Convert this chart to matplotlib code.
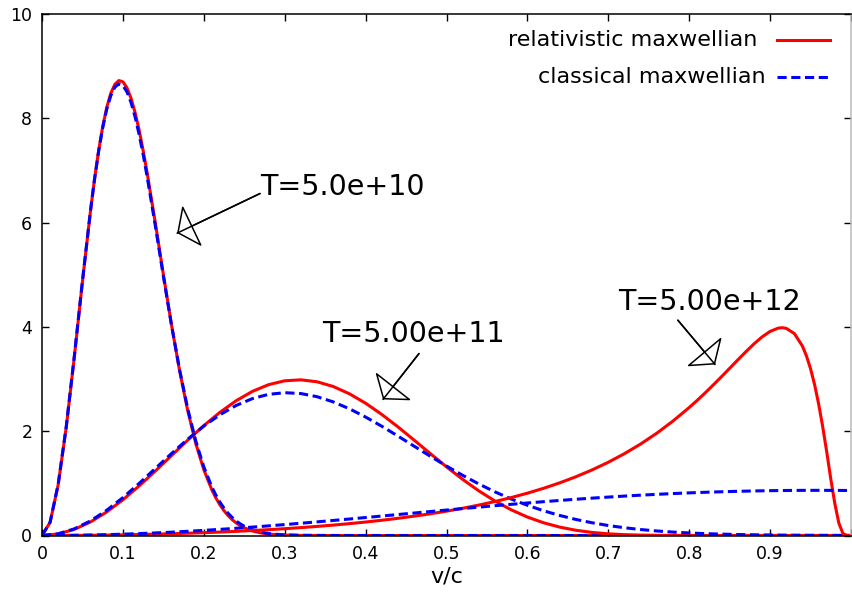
import numpy as np
import matplotlib
matplotlib.use("Agg")
import matplotlib.pyplot as plt

plt.rcParams['font.family'] = ['DejaVu Sans']

# T = 5.0e10 (relativistic and classical share the same grid)
v_t10 = [0.00, 0.01, 0.02, 0.03, 0.04, 0.05, 0.06, 0.065, 0.07, 0.075, 0.08, 0.085,
         0.09, 0.095, 0.10, 0.105, 0.11, 0.115, 0.12, 0.125, 0.13, 0.14, 0.15,
         0.16, 0.17, 0.18, 0.19, 0.20, 0.21, 0.215, 0.22, 0.225, 0.23, 0.235,
         0.24, 0.245, 0.25, 0.26, 0.27, 0.28, 0.29, 0.30, 0.32, 0.35, 0.40, 1.00]
rel_t10 = [0.0, 0.2516, 0.9747, 2.0791, 3.4305, 4.870, 6.234, 6.843, 7.383, 7.841, 8.210, 8.480,
           8.654, 8.727, 8.704, 8.588, 8.390, 8.117, 7.780, 7.387, 6.953, 6.002, 5.010,
           4.048, 3.169, 2.405, 1.770, 1.263, 0.874, 0.7188, 0.587, 0.4754, 0.382, 0.3048,
           0.241, 0.1895, 0.148, 0.0876, 0.0503, 0.0280, 0.0151, 0.0079, 0.002, 0.0002, 0.0, 0.0]
cls_t10 = [0.0, 0.2537, 0.9821, 2.0925, 3.447, 4.884, 6.238, 6.839, 7.370, 7.818, 8.176, 8.436,
           8.599, 8.663, 8.632, 8.511, 8.309, 8.035, 7.698, 7.310, 6.881, 5.948, 4.979,
           4.042, 3.185, 2.440, 1.817, 1.317, 0.929, 0.7726, 0.638, 0.5242, 0.427, 0.3465,
           0.279, 0.2233, 0.178, 0.110, 0.067, 0.039, 0.023, 0.0128, 0.0038, 0.0005, 0.0, 0.0]

# T = 5.00e11
v_t11 = [round(0.02 * i, 2) for i in range(51)]
rel_t11 = [0.0, 0.0297, 0.1177, 0.2604, 0.4521, 0.6850, 0.9500, 1.2363, 1.5325, 1.8269,
           2.1076, 2.3637, 2.5854, 2.7639, 2.8928, 2.9678, 2.9863, 2.9488, 2.8580, 2.7186,
           2.5373, 2.3222, 2.0832, 1.8292, 1.5710, 1.3171, 1.0766, 0.8558, 0.6601, 0.4924,
           0.3539, 0.2441, 0.1607, 0.1003, 0.0589, 0.0322, 0.0162, 0.0074, 0.0030, 0.0011,
           0.0004, 0.0, 0.0, 0.0, 0.0, 0.0, 0.0, 0.0, 0.0, 0.0, 0.0]
cls_t11 = [0.0, 0.0323, 0.1275, 0.2807, 0.4841, 0.7273, 0.9983, 1.2840, 1.5710, 1.8464,
           2.0983, 2.3171, 2.4947, 2.6258, 2.7074, 2.7393, 2.7230, 2.6625, 2.5629, 2.4306,
           2.2724, 2.0956, 1.9073, 1.7135, 1.5205, 1.3327, 1.1544, 0.9882, 0.8365, 0.7000,
           0.5794, 0.4743, 0.3842, 0.3077, 0.2440, 0.1915, 0.1487, 0.1143, 0.0869, 0.0655,
           0.0488, 0.0360, 0.0264, 0.0191, 0.0137, 0.0097, 0.0068, 0.0048, 0.0033, 0.0022,
           0.0015]

# T = 5.00e12
v_rel_t12 = [0.00, 0.02, 0.04, 0.06, 0.08, 0.10, 0.12, 0.14, 0.16, 0.18, 0.20,
             0.22, 0.24, 0.26, 0.28, 0.30, 0.32, 0.34, 0.36, 0.38, 0.40,
             0.42, 0.44, 0.46, 0.48, 0.50, 0.52, 0.54, 0.56, 0.58, 0.60,
             0.62, 0.64, 0.66, 0.68, 0.70, 0.72, 0.74, 0.76, 0.78, 0.80,
             0.81, 0.82, 0.83, 0.84, 0.85, 0.86, 0.87, 0.88, 0.89, 0.90,
             0.91, 0.915, 0.92, 0.93, 0.94, 0.945, 0.95, 0.955, 0.96, 0.965,
             0.97, 0.975, 0.98, 0.985, 0.99, 0.995, 1.00]
rel_t12 = [0.0, 0.0005, 0.0020, 0.0046, 0.0082, 0.0129, 0.0187, 0.0257, 0.0338, 0.0432, 0.0539,
           0.0661, 0.0797, 0.0949, 0.1119, 0.1306, 0.1514, 0.1744, 0.1997, 0.2277, 0.2584,
           0.2924, 0.3298, 0.3710, 0.4165, 0.4667, 0.5223, 0.5838, 0.6520, 0.7277, 0.8119,
           0.9057, 1.0104, 1.1274, 1.2585, 1.4053, 1.5703, 1.7555, 1.9634, 2.1962, 2.4548,
           2.5942, 2.7400, 2.8919, 3.0480, 3.2074, 3.3677, 3.5253, 3.6746, 3.8087, 3.9151,
           3.9779, 3.9859, 3.9734, 3.8739, 3.6327, 3.443, 3.1992, 2.894, 2.5235, 2.0893,
           1.6031, 1.0863, 0.6128, 0.2359, 0.0390, 0.0004, 0.0]
v_cls_t12 = [round(0.02 * i, 2) for i in range(51)]
cls_t12 = [0.0, 0.0010, 0.0041, 0.0092, 0.0163, 0.0254, 0.0364, 0.0492, 0.0638, 0.0802,
           0.0982, 0.1177, 0.1387, 0.1610, 0.1846, 0.2092, 0.2349, 0.2614, 0.2886, 0.3164,
           0.3447, 0.3733, 0.4021, 0.4310, 0.4597, 0.4883, 0.5166, 0.5443, 0.5716, 0.5981,
           0.6238, 0.6486, 0.6724, 0.6952, 0.7167, 0.7370, 0.7560, 0.7736, 0.7897, 0.8044,
           0.8176, 0.8292, 0.8392, 0.8477, 0.8546, 0.8599, 0.8636, 0.8658, 0.8664, 0.8655,
           0.8632]

x_ticks = [0, 0.1, 0.2, 0.3, 0.4, 0.5, 0.6, 0.7, 0.8, 0.9, 1.0]
x_tick_labels = ['0', '0.1', '0.2', '0.3', '0.4', '0.5', '0.6', '0.7', '0.8', '0.9', '']
y_ticks = [0, 2, 4, 6, 8, 10]

# (label, text position, arrow start, arrow tip, alignment) in data coords
labels = [
    ('T=5.0e+10', (0.270, 6.68), (0.2695, 6.56), (0.167, 5.80), 'left'),
    ('T=5.00e+11', (0.459, 3.86), (0.466, 3.49), (0.4215, 2.61), 'center'),
    ('T=5.00e+12', (0.825, 4.48), (0.786, 4.13), (0.832, 3.28), 'center'),
]

red = '#ff0000'
blue = '#0000ff'
lw = 2.2
dash = (0, (3, 1.5))

fig = plt.figure(figsize=(8.52, 5.97), dpi=100)
ax = fig.add_axes([42 / 852, 61.5 / 597, 809 / 852, 521.3 / 597])

ax.plot(v_t10, rel_t10, color=red, lw=lw)
ax.plot(v_t10, cls_t10, color=blue, lw=lw, linestyle=dash)
ax.plot(v_t11, rel_t11, color=red, lw=lw)
ax.plot(v_t11, cls_t11, color=blue, lw=lw, linestyle=dash)
ax.plot(v_rel_t12, rel_t12, color=red, lw=lw)
ax.plot(v_cls_t12, cls_t12, color=blue, lw=lw, linestyle=dash)

ax.set_xlim(0, 1)
ax.set_ylim(0, 10)
ax.set_xticks(x_ticks)
ax.set_xticklabels(x_tick_labels)
ax.set_yticks(y_ticks)
ax.tick_params(direction='in', length=5, width=1, top=True, right=True,
               labelsize=12.5, pad=7)
for s in ax.spines.values():
    s.set_linewidth(1.1)
ax.spines['right'].set_color('#bbbbbb')
ax.set_xlabel('v/c', fontsize=16, labelpad=2)

for text, tpos, start, tip, ha in labels:
    ax.text(tpos[0], tpos[1], text, fontsize=20.5, ha=ha, va='center')
    # open gnuplot-like head, shaft running right through to the tip
    ax.annotate('', xy=tip, xytext=start,
                arrowprops=dict(arrowstyle='-|>,head_length=1.1,head_width=1.5',
                                mutation_scale=10, fc='white', ec='black', lw=1.1,
                                shrinkA=0, shrinkB=0))
    ax.annotate('', xy=tip, xytext=start,
                arrowprops=dict(arrowstyle='-', color='black', lw=1.1,
                                shrinkA=0, shrinkB=0))

# gnuplot-style key: text right-aligned, sample line after it
ax.text(0.884, 0.950, 'relativistic maxwellian', transform=ax.transAxes,
        ha='right', va='center', fontsize=16)
ax.plot([0.9085, 0.974], [0.950, 0.950], transform=ax.transAxes, color=red,
        lw=lw, clip_on=False)
ax.text(0.894, 0.879, 'classical maxwellian', transform=ax.transAxes,
        ha='right', va='center', fontsize=16)
ax.plot([0.9085, 0.974], [0.879, 0.879], transform=ax.transAxes, color=blue,
        lw=lw, linestyle=dash, clip_on=False)

fig.savefig('out.png', dpi=100)
